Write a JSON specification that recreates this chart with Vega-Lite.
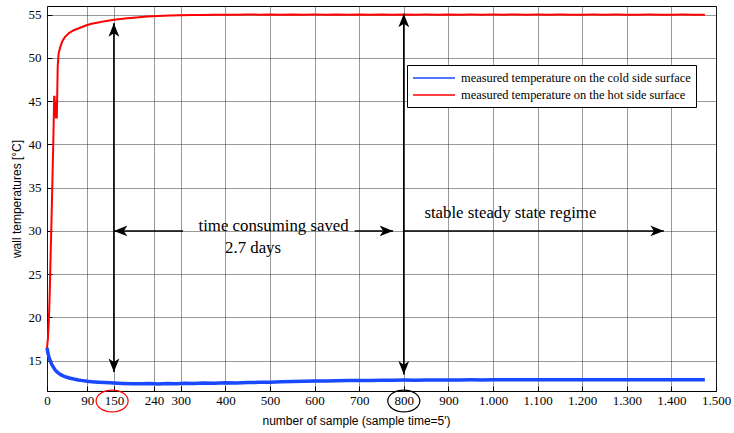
{
  "$schema": "https://vega.github.io/schema/vega-lite/v6.json",
  "autosize": {"type": "none"},
  "padding": {"left": 47, "top": 6, "right": 18, "bottom": 42},
  "width": 669,
  "height": 385,
  "background": "white",
  "config": {
    "view": {"stroke": "black", "strokeWidth": 1},
    "axis": {
      "labelFont": "Liberation Serif",
      "labelFontSize": 13,
      "labelColor": "black",
      "titleFont": "Liberation Sans",
      "titleFontSize": 12,
      "titleFontWeight": "normal",
      "titleColor": "black",
      "domain": false,
      "ticks": true,
      "tickSize": -5,
      "tickColor": "black",
      "tickWidth": 1,
      "grid": true,
      "gridColor": "#333",
      "gridDash": [1, 1],
      "gridWidth": 1,
      "gridOpacity": 1
    }
  },
  "datasets": {
    "temps": [
      {"s": 0, "t": 16.5, "side": "hot"},
      {"s": 2, "t": 17.5, "side": "hot"},
      {"s": 4, "t": 19.5, "side": "hot"},
      {"s": 6, "t": 22.5, "side": "hot"},
      {"s": 8, "t": 27, "side": "hot"},
      {"s": 10, "t": 31, "side": "hot"},
      {"s": 12, "t": 35.5, "side": "hot"},
      {"s": 14, "t": 40, "side": "hot"},
      {"s": 15, "t": 42.5, "side": "hot"},
      {"s": 16, "t": 45.5, "side": "hot"},
      {"s": 17, "t": 45.5, "side": "hot"},
      {"s": 18, "t": 43.5, "side": "hot"},
      {"s": 19, "t": 45, "side": "hot"},
      {"s": 20, "t": 43, "side": "hot"},
      {"s": 21, "t": 44.5, "side": "hot"},
      {"s": 22, "t": 43, "side": "hot"},
      {"s": 23, "t": 46, "side": "hot"},
      {"s": 24, "t": 49, "side": "hot"},
      {"s": 26, "t": 50.5, "side": "hot"},
      {"s": 30, "t": 51.3, "side": "hot"},
      {"s": 35, "t": 52, "side": "hot"},
      {"s": 40, "t": 52.4, "side": "hot"},
      {"s": 50, "t": 52.9, "side": "hot"},
      {"s": 60, "t": 53.2, "side": "hot"},
      {"s": 70, "t": 53.4, "side": "hot"},
      {"s": 80, "t": 53.6, "side": "hot"},
      {"s": 90, "t": 53.8, "side": "hot"},
      {"s": 100, "t": 53.95, "side": "hot"},
      {"s": 115, "t": 54.1, "side": "hot"},
      {"s": 130, "t": 54.25, "side": "hot"},
      {"s": 150, "t": 54.4, "side": "hot"},
      {"s": 175, "t": 54.55, "side": "hot"},
      {"s": 200, "t": 54.68, "side": "hot"},
      {"s": 225, "t": 54.78, "side": "hot"},
      {"s": 250, "t": 54.85, "side": "hot"},
      {"s": 275, "t": 54.9, "side": "hot"},
      {"s": 300, "t": 54.93, "side": "hot"},
      {"s": 325, "t": 54.95, "side": "hot"},
      {"s": 350, "t": 54.97, "side": "hot"},
      {"s": 375, "t": 54.99, "side": "hot"},
      {"s": 400, "t": 55.0, "side": "hot"},
      {"s": 425, "t": 54.98, "side": "hot"},
      {"s": 450, "t": 55.02, "side": "hot"},
      {"s": 475, "t": 55.0, "side": "hot"},
      {"s": 500, "t": 55.01, "side": "hot"},
      {"s": 525, "t": 54.99, "side": "hot"},
      {"s": 550, "t": 55.02, "side": "hot"},
      {"s": 575, "t": 55.0, "side": "hot"},
      {"s": 600, "t": 55.01, "side": "hot"},
      {"s": 625, "t": 55.0, "side": "hot"},
      {"s": 650, "t": 55.02, "side": "hot"},
      {"s": 675, "t": 55.0, "side": "hot"},
      {"s": 700, "t": 55.01, "side": "hot"},
      {"s": 725, "t": 54.99, "side": "hot"},
      {"s": 750, "t": 55.01, "side": "hot"},
      {"s": 775, "t": 55.0, "side": "hot"},
      {"s": 800, "t": 55.02, "side": "hot"},
      {"s": 825, "t": 55.0, "side": "hot"},
      {"s": 850, "t": 55.01, "side": "hot"},
      {"s": 875, "t": 55.0, "side": "hot"},
      {"s": 900, "t": 55.02, "side": "hot"},
      {"s": 925, "t": 55.0, "side": "hot"},
      {"s": 950, "t": 55.01, "side": "hot"},
      {"s": 975, "t": 55.0, "side": "hot"},
      {"s": 1000, "t": 55.01, "side": "hot"},
      {"s": 1025, "t": 55.0, "side": "hot"},
      {"s": 1050, "t": 55.02, "side": "hot"},
      {"s": 1075, "t": 55.0, "side": "hot"},
      {"s": 1100, "t": 55.01, "side": "hot"},
      {"s": 1125, "t": 55.0, "side": "hot"},
      {"s": 1150, "t": 55.01, "side": "hot"},
      {"s": 1175, "t": 55.0, "side": "hot"},
      {"s": 1200, "t": 55.0, "side": "hot"},
      {"s": 1225, "t": 55.01, "side": "hot"},
      {"s": 1250, "t": 55.0, "side": "hot"},
      {"s": 1275, "t": 55.01, "side": "hot"},
      {"s": 1300, "t": 55.0, "side": "hot"},
      {"s": 1325, "t": 55.0, "side": "hot"},
      {"s": 1350, "t": 55.01, "side": "hot"},
      {"s": 1375, "t": 55.0, "side": "hot"},
      {"s": 1400, "t": 55.0, "side": "hot"},
      {"s": 1425, "t": 55.01, "side": "hot"},
      {"s": 1450, "t": 55.0, "side": "hot"},
      {"s": 1475, "t": 55.0, "side": "hot"},
      {"s": 0, "t": 16.5, "side": "cold"},
      {"s": 1, "t": 16.2, "side": "cold"},
      {"s": 2, "t": 15.9, "side": "cold"},
      {"s": 4, "t": 15.5, "side": "cold"},
      {"s": 6, "t": 15.15, "side": "cold"},
      {"s": 8, "t": 14.9, "side": "cold"},
      {"s": 10, "t": 14.65, "side": "cold"},
      {"s": 12, "t": 14.45, "side": "cold"},
      {"s": 15, "t": 14.2, "side": "cold"},
      {"s": 18, "t": 13.95, "side": "cold"},
      {"s": 21, "t": 13.78, "side": "cold"},
      {"s": 25, "t": 13.6, "side": "cold"},
      {"s": 30, "t": 13.42, "side": "cold"},
      {"s": 35, "t": 13.28, "side": "cold"},
      {"s": 40, "t": 13.17, "side": "cold"},
      {"s": 50, "t": 13.0, "side": "cold"},
      {"s": 60, "t": 12.88, "side": "cold"},
      {"s": 70, "t": 12.78, "side": "cold"},
      {"s": 80, "t": 12.7, "side": "cold"},
      {"s": 90, "t": 12.63, "side": "cold"},
      {"s": 100, "t": 12.58, "side": "cold"},
      {"s": 115, "t": 12.52, "side": "cold"},
      {"s": 130, "t": 12.47, "side": "cold"},
      {"s": 150, "t": 12.42, "side": "cold"},
      {"s": 170, "t": 12.38, "side": "cold"},
      {"s": 190, "t": 12.35, "side": "cold"},
      {"s": 210, "t": 12.33, "side": "cold"},
      {"s": 230, "t": 12.36, "side": "cold"},
      {"s": 250, "t": 12.3, "side": "cold"},
      {"s": 270, "t": 12.38, "side": "cold"},
      {"s": 290, "t": 12.34, "side": "cold"},
      {"s": 310, "t": 12.4, "side": "cold"},
      {"s": 330, "t": 12.37, "side": "cold"},
      {"s": 350, "t": 12.42, "side": "cold"},
      {"s": 375, "t": 12.4, "side": "cold"},
      {"s": 400, "t": 12.44, "side": "cold"},
      {"s": 425, "t": 12.43, "side": "cold"},
      {"s": 450, "t": 12.47, "side": "cold"},
      {"s": 475, "t": 12.5, "side": "cold"},
      {"s": 500, "t": 12.52, "side": "cold"},
      {"s": 525, "t": 12.56, "side": "cold"},
      {"s": 550, "t": 12.6, "side": "cold"},
      {"s": 575, "t": 12.62, "side": "cold"},
      {"s": 600, "t": 12.65, "side": "cold"},
      {"s": 625, "t": 12.66, "side": "cold"},
      {"s": 650, "t": 12.68, "side": "cold"},
      {"s": 675, "t": 12.7, "side": "cold"},
      {"s": 700, "t": 12.71, "side": "cold"},
      {"s": 725, "t": 12.72, "side": "cold"},
      {"s": 750, "t": 12.74, "side": "cold"},
      {"s": 775, "t": 12.75, "side": "cold"},
      {"s": 800, "t": 12.76, "side": "cold"},
      {"s": 825, "t": 12.75, "side": "cold"},
      {"s": 850, "t": 12.77, "side": "cold"},
      {"s": 875, "t": 12.78, "side": "cold"},
      {"s": 900, "t": 12.77, "side": "cold"},
      {"s": 925, "t": 12.78, "side": "cold"},
      {"s": 950, "t": 12.79, "side": "cold"},
      {"s": 975, "t": 12.78, "side": "cold"},
      {"s": 1000, "t": 12.79, "side": "cold"},
      {"s": 1025, "t": 12.8, "side": "cold"},
      {"s": 1050, "t": 12.79, "side": "cold"},
      {"s": 1075, "t": 12.8, "side": "cold"},
      {"s": 1100, "t": 12.8, "side": "cold"},
      {"s": 1125, "t": 12.79, "side": "cold"},
      {"s": 1150, "t": 12.8, "side": "cold"},
      {"s": 1175, "t": 12.81, "side": "cold"},
      {"s": 1200, "t": 12.8, "side": "cold"},
      {"s": 1225, "t": 12.8, "side": "cold"},
      {"s": 1250, "t": 12.81, "side": "cold"},
      {"s": 1275, "t": 12.8, "side": "cold"},
      {"s": 1300, "t": 12.8, "side": "cold"},
      {"s": 1325, "t": 12.81, "side": "cold"},
      {"s": 1350, "t": 12.8, "side": "cold"},
      {"s": 1375, "t": 12.8, "side": "cold"},
      {"s": 1400, "t": 12.8, "side": "cold"},
      {"s": 1425, "t": 12.81, "side": "cold"},
      {"s": 1450, "t": 12.8, "side": "cold"},
      {"s": 1475, "t": 12.8, "side": "cold"}
    ],
    "segs": [
      {"x1": 150, "x2": 150, "y1": 13.7, "y2": 54.0},
      {"x1": 800, "x2": 800, "y1": 13.4, "y2": 55.1},
      {"x1": 150, "x2": 305, "y1": 30, "y2": 30},
      {"x1": 690, "x2": 776, "y1": 30, "y2": 30},
      {"x1": 800, "x2": 1383, "y1": 30, "y2": 30}
    ],
    "heads": [
      {"x": 150, "y": 54.0, "dir": "up"},
      {"x": 150, "y": 13.7, "dir": "down"},
      {"x": 800, "y": 55.1, "dir": "up"},
      {"x": 800, "y": 13.4, "dir": "down"},
      {"x": 150, "y": 30, "dir": "left"},
      {"x": 776, "y": 30, "dir": "right"},
      {"x": 1383, "y": 30, "dir": "right"}
    ],
    "notes": [
      {"x": 508, "y": 30.6, "label": "time consuming saved"},
      {"x": 462, "y": 28.0, "label": "2.7 days"},
      {"x": 1039, "y": 32.1, "label": "stable steady state regime"}
    ],
    "rings": [
      {"x": 146, "y": 10.35, "tag": "150"},
      {"x": 800, "y": 10.35, "tag": "800"}
    ]
  },
  "encoding": {
    "x": {
      "field": "s", "type": "quantitative",
      "scale": {"domain": [0, 1500], "nice": false, "zero": false},
      "axis": {
        "title": "number of sample (sample time=5')",
        "values": [0, 90, 150, 240, 300, 400, 500, 600, 700, 800, 900, 1000, 1100, 1200, 1300, 1400, 1500],
        "labelExpr": "replace(format(datum.value, ','), ',', '.')",
        "labelPadding": 8,
        "titlePadding": 8,
        "titleX": 309,
        "labelFlush": false,
        "labelOverlap": false
      }
    },
    "y": {
      "field": "t", "type": "quantitative",
      "scale": {"domain": [11.5, 56], "nice": false, "zero": false},
      "axis": {
        "title": "wall temperatures [°C]",
        "values": [15, 20, 25, 30, 35, 40, 45, 50, 55],
        "labelPadding": 11,
        "titlePadding": 5
      }
    }
  },
  "layer": [
    {
      "data": {"name": "temps"},
      "transform": [{"filter": "datum.side === 'cold'"}],
      "mark": {"type": "line", "strokeWidth": 3.5},
      "encoding": {
        "color": {
          "field": "side", "type": "nominal",
          "scale": {"domain": ["cold", "hot"], "range": ["#1a48ff", "#ff0000"]},
          "legend": {
            "title": null,
            "orient": "none",
            "legendX": 360,
            "legendY": 59,
            "padding": 5,
            "strokeColor": "black",
            "fillColor": "white",
            "cornerRadius": 0,
            "labelFont": "Liberation Serif",
            "labelFontSize": 12.4,
            "labelColor": "black",
            "labelLimit": 0,
            "symbolType": "M -1 0 L 5 0",
            "symbolSize": 196,
            "symbolStrokeWidth": 1.5,
            "labelOffset": 33,
            "rowPadding": 2,
            "labelExpr": "'measured temperature on the ' + datum.label + ' side surface\u00a0\u00a0'"
          }
        }
      }
    },
    {
      "data": {"name": "temps"},
      "transform": [{"filter": "datum.side === 'hot'"}],
      "mark": {"type": "line", "strokeWidth": 2},
      "encoding": {
        "color": {"field": "side", "type": "nominal"}
      }
    },
    {
      "data": {"name": "segs"},
      "mark": {"type": "rule", "color": "black", "strokeWidth": 1.6},
      "encoding": {
        "x": {"field": "x1", "type": "quantitative"},
        "x2": {"field": "x2"},
        "y": {"field": "y1", "type": "quantitative"},
        "y2": {"field": "y2"}
      }
    },
    {
      "data": {"name": "heads"},
      "mark": {"type": "point", "filled": true, "color": "black", "opacity": 1, "size": 324},
      "encoding": {
        "x": {"field": "x", "type": "quantitative"},
        "y": {"field": "y", "type": "quantitative"},
        "shape": {
          "field": "dir", "type": "nominal",
          "scale": {
            "domain": ["up", "down", "left", "right"],
            "range": [
              "M0,0 L0.6,1.5 L0,1.1 L-0.6,1.5 Z",
              "M0,0 L0.6,-1.5 L0,-1.1 L-0.6,-1.5 Z",
              "M0,0 L1.5,0.6 L1.1,0 L1.5,-0.6 Z",
              "M0,0 L-1.5,0.6 L-1.1,0 L-1.5,-0.6 Z"
            ]
          },
          "legend": null
        }
      }
    },
    {
      "data": {"name": "notes"},
      "mark": {"type": "text", "font": "Liberation Serif", "fontSize": 16.8, "color": "black", "align": "center", "baseline": "middle"},
      "encoding": {
        "x": {"field": "x", "type": "quantitative"},
        "y": {"field": "y", "type": "quantitative"},
        "text": {"field": "label"}
      }
    },
    {
      "data": {"name": "rings"},
      "mark": {"type": "point", "filled": false, "strokeWidth": 1.2, "opacity": 1, "size": 1024, "shape": "M -1 0 A 1 0.68 0 1 1 1 0 A 1 0.68 0 1 1 -1 0 Z", "clip": false},
      "encoding": {
        "x": {"field": "x", "type": "quantitative"},
        "y": {"field": "y", "type": "quantitative"},
        "stroke": {
          "field": "tag", "type": "nominal",
          "scale": {"domain": ["150", "800"], "range": ["#ff0000", "black"]},
          "legend": null
        }
      }
    }
  ]
}
